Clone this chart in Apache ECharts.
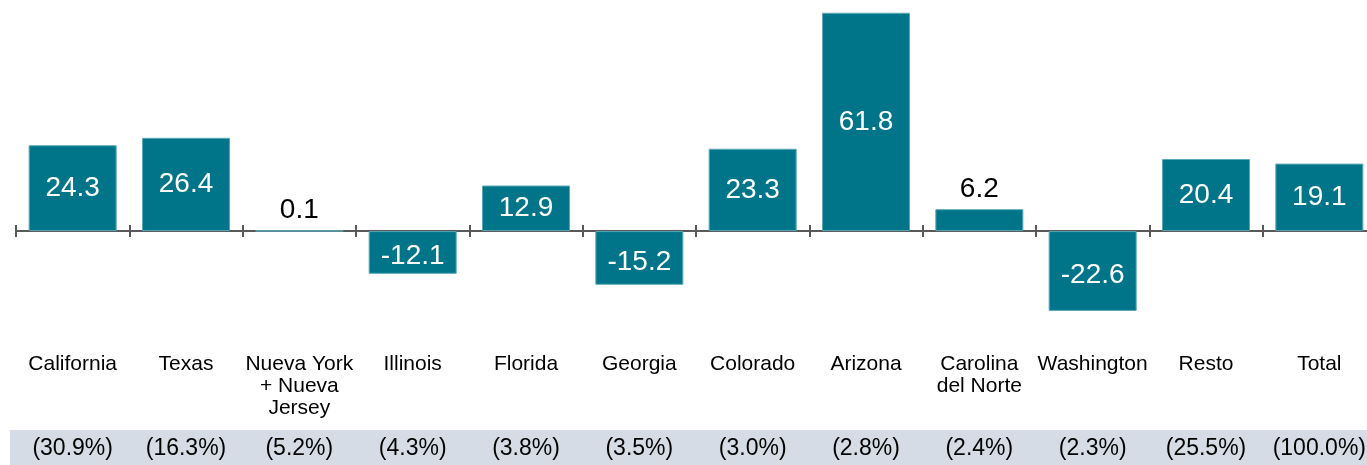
<!DOCTYPE html>
<html>
<head>
<meta charset="utf-8">
<script src="https://cdn.jsdelivr.net/npm/echarts@6/dist/echarts.min.js"></script>
<style>
html,body{margin:0;padding:0;background:#fff;}
#chart{width:1367px;height:465px;}
</style>
</head>
<body>
<div id="chart"></div>
<script>
const categories = ["California", "Texas", "Nueva York\n+ Nueva\nJersey", "Illinois", "Florida", "Georgia", "Colorado", "Arizona", "Carolina\ndel Norte", "Washington", "Resto", "Total"];
const values = [24.3, 26.4, 0.1, -12.1, 12.9, -15.2, 23.3, 61.8, 6.2, -22.6, 20.4, 19.1];
const shares = ["(30.9%)", "(16.3%)", "(5.2%)", "(4.3%)", "(3.8%)", "(3.5%)", "(3.0%)", "(2.8%)", "(2.4%)", "(2.3%)", "(25.5%)", "(100.0%)"];

const FONT = "'Liberation Sans', Arial, sans-serif";
const BAR = "#00758a";
const AXIS = "#595959";

const barData = values.map(v => {
  const small = Math.abs(v) < 8;
  return {
    value: v,
    label: small
      ? { position: "top", color: "#000", distance: 6 }
      : { position: "inside", color: "#fff", offset: [0, v < 0 ? 4 : 0] }
  };
});

const hiddenAxis = (data, extra) => Object.assign({
  type: "category",
  data: data,
  position: "bottom",
  axisLine: { show: false, onZero: false },
  axisTick: { show: false },
  axisLabel: { show: false },
  splitLine: { show: false }
}, extra);

const yBase = { type: "value", min: -28, max: 64, show: false, splitLine: { show: false } };

const chart = echarts.init(document.getElementById("chart"), null, { renderer: "canvas" });
chart.setOption({
  animation: false,
  backgroundColor: "#fff",
  graphic: [{
    type: "rect",
    shape: { x: 10, y: 430, width: 1357, height: 35 },
    style: { fill: "#d6dce5" },
    z: -10
  }],
  grid: { left: 16, top: 5, width: 1360, height: 325, containLabel: false, outerBoundsMode: "none" },
  xAxis: [
    hiddenAxis(categories, {
      axisLine: { show: true, onZero: true, onZeroAxisIndex: 0, lineStyle: { color: AXIS, width: 2 } },
      axisTick: { show: true, length: 6, lineStyle: { color: AXIS, width: 2 } }
    }),
    hiddenAxis(categories, {
      axisLine: { show: true, onZero: true, onZeroAxisIndex: 1, lineStyle: { color: AXIS, width: 2, opacity: 0 } },
      axisTick: { show: true, inside: true, length: 6, lineStyle: { color: AXIS, width: 2 } }
    }),
    hiddenAxis(categories, {
      axisLabel: {
        show: true, margin: 23, fontFamily: FONT, fontSize: 21, color: "#000",
        lineHeight: 22, interval: 0, verticalAlign: "top"
      }
    }),
    hiddenAxis(shares, {
      axisLabel: {
        show: true, margin: 107, fontFamily: FONT, fontSize: 23, color: "#000",
        lineHeight: 24, interval: 0, verticalAlign: "top"
      }
    })
  ],
  yAxis: [Object.assign({}, yBase), Object.assign({}, yBase)],
  series: [{
    type: "bar",
    xAxisIndex: 0,
    yAxisIndex: 0,
    data: barData,
    barWidth: 88,
    itemStyle: { color: BAR, borderColor: "#5aa9b8", borderWidth: 1 },
    label: {
      show: true,
      fontFamily: FONT,
      fontSize: 28,
      formatter: p => p.value.toFixed(1)
    }
  }]
});
</script>
</body>
</html>
